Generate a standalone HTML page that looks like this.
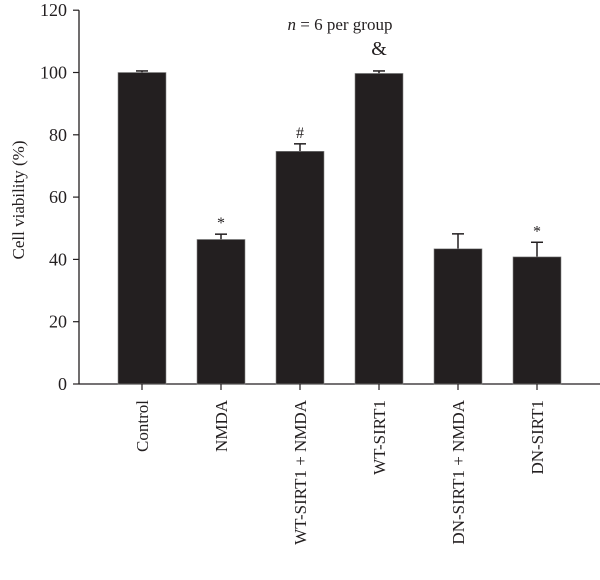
<!DOCTYPE html>
<html><head><meta charset="utf-8"><style>
html,body{margin:0;padding:0;background:#fff;}
svg{display:block;font-family:"Liberation Serif",serif;}
</style></head><body>
<svg id="chart" width="600" height="580" xmlns="http://www.w3.org/2000/svg">
<text x="340" y="30" font-size="17" text-anchor="middle" fill="#231f20"><tspan font-style="italic">n</tspan> = 6 per group</text>
<text transform="translate(24,200) rotate(-90)" font-size="17" text-anchor="middle" fill="#231f20">Cell viability (%)</text>
<g id="plot"></g>
</svg>
<script>
const categories = ["Control","NMDA","WT-SIRT1 + NMDA","WT-SIRT1","DN-SIRT1 + NMDA","DN-SIRT1"];
const values = [100, 46.4, 74.7, 99.7, 43.4, 40.8];
const errors = [0.5, 1.7, 2.4, 0.8, 4.8, 4.7];
const marks = ["", "*", "#", "&", "", "*"];
const yTicks = [0,20,40,60,80,100,120];

const NS="http://www.w3.org/2000/svg";
const g=document.getElementById('plot');
const x0=79, x1=600, y0=384, yTop=10.2, yMax=120;
const y=v=>y0-(v/yMax)*(y0-yTop);
const step=79, first=142, bw=48;
const xc=i=>first+i*step;
function mk(t,a){const e=document.createElementNS(NS,t);for(const k in a)e.setAttribute(k,a[k]);g.appendChild(e);return e;}

let e=mk('line',{x1:x0,y1:y(yMax),x2:x0,y2:y0+0.5,stroke:'#231f20','stroke-width':1.3});


e=mk('line',{x1:x0,y1:y0,x2:x1,y2:y0,stroke:'#231f20','stroke-width':1.3});



yTicks.forEach(t=>{
  let l=mk('line',{x1:x0-6,y1:y(t),x2:x0,y2:y(t),stroke:'#231f20','stroke-width':1.2});
  
  
  let tx=mk('text',{x:x0-12,y:y(t)+6,'font-size':18,'text-anchor':'end',fill:'#231f20'});
  tx.textContent=t;
  
  
});

categories.forEach((c,i)=>{
  const cx=xc(i), top=y(values[i]), et=y(values[i]+errors[i]);
  let ln=mk('line',{x1:cx,y1:top,x2:cx,y2:et,stroke:'#231f20','stroke-width':1.5});
  
  
  let cap=mk('line',{x1:cx-6,y1:et,x2:cx+6,y2:et,stroke:'#231f20','stroke-width':1.5});
  
  
  let r=mk('rect',{x:cx-bw/2,y:top,width:bw,height:y0-top,fill:'#231f20',stroke:'#888','stroke-width':0.6});
  
  
  let tk=mk('line',{x1:cx,y1:y0,x2:cx,y2:y0+6,stroke:'#231f20','stroke-width':1.2});
  
  
  let lb=mk('text',{transform:`translate(${cx+6},${y0+16}) rotate(-90)`,'font-size':17,'text-anchor':'end',fill:'#231f20'});
  lb.textContent=c;
  
  
  if(marks[i]){
    const fs=marks[i]==='&'?20:16;
    let m=mk('text',{x:cx,y:et-(marks[i]==='&'?16:6),'font-size':fs,'text-anchor':'middle',fill:'#231f20'});
    m.textContent=marks[i];
    
    
  }
});
</script>
</body></html>
